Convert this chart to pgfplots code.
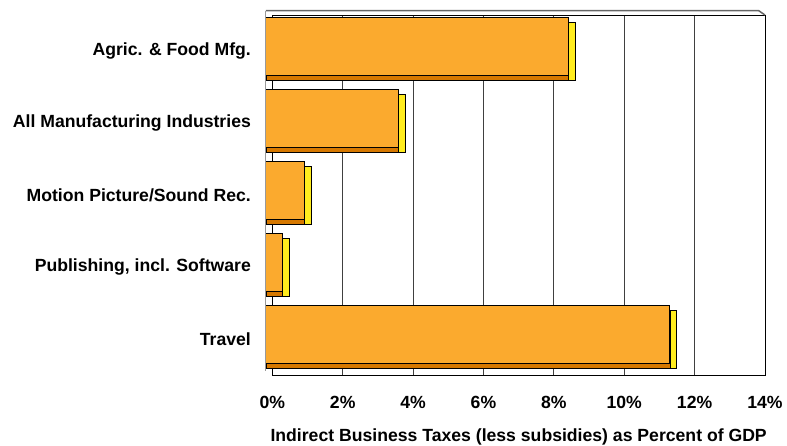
\documentclass[border=0pt]{standalone}
\usepackage{pgfplots}
\pgfplotsset{compat=1.18}
\usepackage{pgfplotstable}
\usepackage{fontspec}
\setmainfont{Liberation Sans}

\definecolor{barface}{RGB}{251,170,46}
\definecolor{barside}{RGB}{255,236,30}
\definecolor{barbottom}{RGB}{214,120,0}

% indirect business taxes (less subsidies), percent of GDP
\pgfplotstableread{
idx value
0 8.60
1 3.77
2 1.10
3 0.48
4 11.48
}\taxdata

\begin{document}
\begin{tikzpicture}
\begin{axis}[
    scale only axis,
    width=492pt, height=360pt,
    xbar, bar width=0.8,
    clip=false,
    xmin=0, xmax=14,
    ymin=-0.5, ymax=4.5,
    y dir=reverse,
    ytick={0,...,4},
    yticklabels={Agric. \& Food Mfg., All Manufacturing Industries, Motion Picture/Sound Rec., {Publishing, incl. Software}, Travel},
    xtick={0,2,...,14},
    xticklabel={\pgfmathprintnumber{\tick}\%},
    /pgf/number format/assume math mode=true,
    font=\fontsize{17.6}{20}\selectfont\bfseries,
    tick style={draw=none},
    yticklabel style={anchor=east, inner sep=0pt, xshift=-17pt},
    xticklabel style={anchor=base, inner sep=0pt, yshift=-33pt},
    xlabel={Indirect Business Taxes (less subsidies) as Percent of GDP},
    x label style={at={(axis description cs:0.5,0)}, anchor=base, inner sep=0pt, yshift=-66pt},
    xmajorgrids,
    grid style={black!75, line width=0.7pt},
    axis line style={black, line width=0.8pt},
]
% depth of the 3-D bars: side face, bottom face, front face
\addplot[bar shift=0pt, fill=barside, draw=black, line width=0.5pt]
    table[x=value, y=idx]{\taxdata};
\addplot[bar shift=0pt, fill=barbottom, draw=black, line width=0.5pt, xshift=-6.5pt]
    table[x=value, y=idx]{\taxdata};
\addplot[bar shift=0pt, fill=barface, draw=black, line width=0.7pt, xshift=-6.5pt, yshift=5pt]
    table[x=value, y=idx]{\taxdata};
\end{axis}
\draw[black!60, line width=1.5pt] ([shift={(-6.5pt,4.5pt)}]current axis.north west) -- ([shift={(-6.5pt,4.5pt)}]current axis.north east) -- (current axis.north east);
\draw[black!40, line width=0.8pt] ([shift={(-6.5pt,4.5pt)}]current axis.south west) -- ([shift={(-6.5pt,4.5pt)}]current axis.north west);
\path ([shift={(-272pt,-70pt)}]current axis.south west) rectangle ([shift={(22pt,15pt)}]current axis.north east);
\end{tikzpicture}
\end{document}
